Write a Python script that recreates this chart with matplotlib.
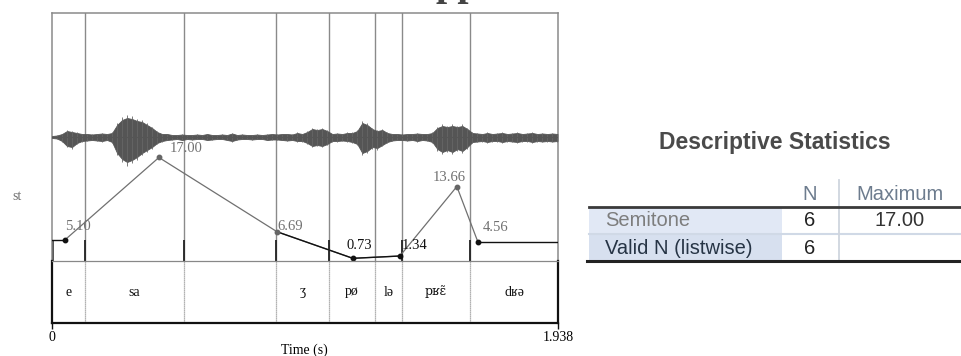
import numpy as np
import matplotlib
matplotlib.use("Agg")
import matplotlib.pyplot as plt
from matplotlib.patches import Rectangle

# --- data ---------------------------------------------------------------
t_max = 1.938
boundaries = [0.128, 0.507, 0.859, 1.062, 1.238, 1.341, 1.601]
tier_labels = ["e", "sa", "", "ʒ", "pø", "lə", "pʁɛ̃", "dʁə"]

pitch_t = [0.052, 0.411, 0.863, 1.153, 1.333, 1.551, 1.632]
pitch_st = [5.10, 17.00, 6.69, 0.73, 1.34, 13.66, 4.56]

# waveform envelope (upper / lower, relative amplitude) read every ~5 px
wave_up = [1, 1.5, 3, 6, 5, 4, 3, 3, 2.5, 3,
           3.5, 3, 4, 12, 17, 19, 18, 16, 15, 12,
           9, 5, 3, 3, 2, 2, 2.5, 2, 2, 2.5,
           2, 3, 2, 2, 2.5, 2, 3.5, 2, 2.5, 2,
           2, 2.5, 2, 2.5, 3, 2.5, 3, 3, 2.5, 4,
           3, 5, 8, 7, 8, 6, 3, 3.5, 3, 4,
           4, 6, 14, 12, 8, 6, 7, 4, 3, 3,
           2.5, 3, 3, 3.5, 3, 3, 4, 9, 11, 10,
           11, 10, 11, 8, 4, 3.5, 3, 4, 3, 3.5,
           4, 3, 3.5, 4, 3, 3.5, 4, 3, 3.5, 3,
           3.5, 3]
wave_down = [1, 1.5, 4, 9, 10, 6, 4, 3.5, 3, 3.5,
             4, 3, 5, 16, 22, 25, 23, 20, 16, 13,
             10, 6, 4, 3, 2.5, 2, 3, 2, 2.5, 2,
             2, 3, 2.5, 2, 2, 3, 4, 2.5, 2, 2,
             2.5, 2, 2, 3, 2.5, 2.5, 3, 3.5, 3, 4,
             4, 6, 9, 8, 9, 7, 4, 4, 3.5, 4,
             5, 7, 16, 14, 10, 11, 8, 5, 3.5, 3,
             3, 3.5, 3, 4, 3, 3.5, 5, 12, 15, 13,
             15, 12, 14, 10, 5, 4.5, 4, 5, 4, 4,
             5, 4, 4.5, 5, 4, 4, 5, 4, 4.5, 4,
             4.5, 4]

stats_title = "Descriptive Statistics"
stats_cols = ["N", "Maximum"]
stats_rows = ["Semitone", "Valid N (listwise)"]
stats_n = ["6", "6"]
stats_max = ["17.00", ""]

# --- figure -------------------------------------------------------------
W, H = 961, 356
fig = plt.figure(figsize=(W / 100, H / 100), dpi=100)
serif = ["Liberation Serif", "DejaVu Serif"]
sans = ["Liberation Sans", "DejaVu Sans"]
grey = "#707070"
lgrey = "#8a8a8a"

x0, x1 = 51.5, 558
y_top, y_mid, y_bot = 13, 261, 323


def fr(x, y):
    return x / W, 1 - y / H


ax_p = fig.add_axes([x0 / W, 1 - y_mid / H, (x1 - x0) / W, (y_mid - y_top) / H])
ax_w = fig.add_axes(ax_p.get_position())
ax_t = fig.add_axes([x0 / W, 1 - y_bot / H, (x1 - x0) / W, (y_bot - y_mid) / H])

# waveform
ax_w.patch.set_visible(False)
ax_w.axis("off")
wt = np.linspace(0.002, t_max - 0.002, len(wave_up))
half = (y_mid - y_top) / 2
up = np.array(wave_up) / half
dn = -np.array(wave_down) / half
ax_w.fill_between(wt, dn, up, color="#555555", lw=0.6, edgecolor="#555555")
ax_w.vlines(wt, dn * 1.15, up * 1.15, color="#666666", lw=0.6)
ax_w.axhline(0, color="#555555", lw=0.8)
ax_w.set_xlim(0, t_max)
ax_w.set_ylim(-1, 1)

# pitch (drawn on a linear Hz-like scale, labelled in semitones)
ax_p.set_yscale("function", functions=(lambda v: 2 ** (np.asarray(v) / 12),
                                       lambda v: 12 * np.log2(np.maximum(v, 1e-9))))
ax_p.set_ylim(0, 12 * np.log2(5))
ax_p.set_xlim(0, t_max)
marked = [True, True, True, True, False, True, True]
for b, m in zip(boundaries, marked):
    ax_p.axvline(b, color=lgrey, lw=1.0)
    if m:
        ax_p.vlines(b, 0, 0.085, transform=ax_p.get_xaxis_transform(), color="#222222", lw=1.3)
ax_p.vlines(0, 0, 0.085, transform=ax_p.get_xaxis_transform(), color="#222222", lw=1.8)
ax_p.plot(pitch_t, pitch_st, color=grey, lw=0.9, zorder=3)
ax_p.plot([0, pitch_t[0]], [pitch_st[0]] * 2, color="#111111", lw=1.0, zorder=3)
ax_p.plot([pitch_t[-1], t_max], [pitch_st[-1]] * 2, color="#111111", lw=1.0, zorder=3)
ax_p.plot(pitch_t[2:5], pitch_st[2:5], color="#111111", lw=1.0, zorder=4)
dark = [True, False, False, True, True, False, True]
for t, v, d in zip(pitch_t, pitch_st, dark):
    ax_p.plot(t, v, "o", ms=3.2, color="#111111" if d else "#666666", zorder=5)

offs = [(0, 13), (11, 9), (0, 5), (-6, 13), (2, 11), (-24, 9), (5, 15)]
lab_dark = [False, False, False, True, True, False, False]
for t, v, (dx, dy), d in zip(pitch_t, pitch_st, offs, lab_dark):
    ax_p.annotate(f"{v:.2f}", (t, v), xytext=(dx, dy), textcoords="offset pixels",
                  ha="left", va="center", fontsize=10.5, family=serif,
                  color="#111111" if d else grey, zorder=6)
ax_p.set_xticks([])
ax_p.set_yticks([])
ax_p.yaxis.set_minor_locator(matplotlib.ticker.NullLocator())
for s in ["top", "left", "right"]:
    ax_p.spines[s].set_color(lgrey)
    ax_p.spines[s].set_linewidth(1.1)
ax_p.spines["bottom"].set_visible(False)

# tier
edges = [0] + boundaries + [t_max]
for b in boundaries:
    ax_t.axvline(b, color="#999999", lw=0.9, ls=(0, (1, 0.6)))
for a, b, lab in zip(edges[:-1], edges[1:], tier_labels):
    nasal = "\u0303" in lab
    ax_t.text((a + b) / 2, 0.5, lab, ha="center", va="center",
              fontsize=9 if nasal else 10,
              family=["DejaVu Serif"] if nasal else serif,
              color="#111111")
ax_t.set_xlim(0, t_max)
ax_t.set_ylim(0, 1)
ax_t.set_yticks([])
ax_t.spines["top"].set_linestyle((0, (1, 1)))
ax_t.spines["top"].set_color("#888888")
ax_t.spines["top"].set_linewidth(0.9)
for s in ["left", "right", "bottom"]:
    ax_t.spines[s].set_color("#111111")
    ax_t.spines[s].set_linewidth(1.6)
ax_t.set_xticks([0, t_max])
ax_t.set_xticklabels(["0", f"{t_max:.3f}"], fontsize=10, family=serif)
ax_t.tick_params(axis="x", length=4, width=1, direction="out", pad=1.5, color="#111111")
ax_t.set_xlabel("Time (s)", fontsize=10, family=serif, labelpad=0)

fig.text(*fr(17, 197), "st", fontsize=10, family=serif, color=grey,
         ha="center", va="center")
# clipped title fragment at the very top
fig.text(435 / W, 1 + 4.5 / H, "pp", fontsize=29, family=serif, weight="bold",
         color="#444444", ha="left", va="baseline")

# --- statistics table ---------------------------------------------------
ax_s = fig.add_axes([0, 0, 1, 1])
ax_s.set_xlim(0, W)
ax_s.set_ylim(H, 0)
ax_s.axis("off")
ax_s.patch.set_visible(False)

ax_s.text(775, 142, stats_title, ha="center", va="center", fontsize=16.5,
          family=sans, weight="bold", color="#4a4a4a")
col_x = [810, 900]
for cx, c in zip(col_x, stats_cols):
    ax_s.text(cx, 194, c, ha="center", va="center", fontsize=14.5,
              family=sans, color="#6d7c8e")
row_y = [(207, 234), (234, 261)]
row_bg = ["#e1e8f5", "#d7e0ef"]
row_fg = ["#7d7d7d", "#263445"]
for (ya, yb), bg, fg, name, n, mx in zip(row_y, row_bg, row_fg, stats_rows, stats_n, stats_max):
    ax_s.add_patch(Rectangle((589, ya), 782 - 589, yb - ya, facecolor=bg, edgecolor="none"))
    ax_s.text(605, (ya + yb) / 2 + 0.5, name, ha="left", va="center", fontsize=14.5,
              family=sans, color=fg)
    ax_s.text(col_x[0], (ya + yb) / 2 + 0.5, n, ha="center", va="center",
              fontsize=14.5, family=sans, color="#222222")
    ax_s.text(col_x[1], (ya + yb) / 2 + 0.5, mx, ha="center", va="center",
              fontsize=14.5, family=sans, color="#333333")
ax_s.plot([589, W], [234, 234], color="#d0d9e6", lw=1.5)
ax_s.plot([839, 839], [180, 261], color="#cfd5de", lw=1.3)
ax_s.plot([589, W], [207, 207], color="#3a3a3a", lw=2.0)
ax_s.plot([587, W], [261, 261], color="#222222", lw=2.2)

fig.savefig("out.png", dpi=100)
